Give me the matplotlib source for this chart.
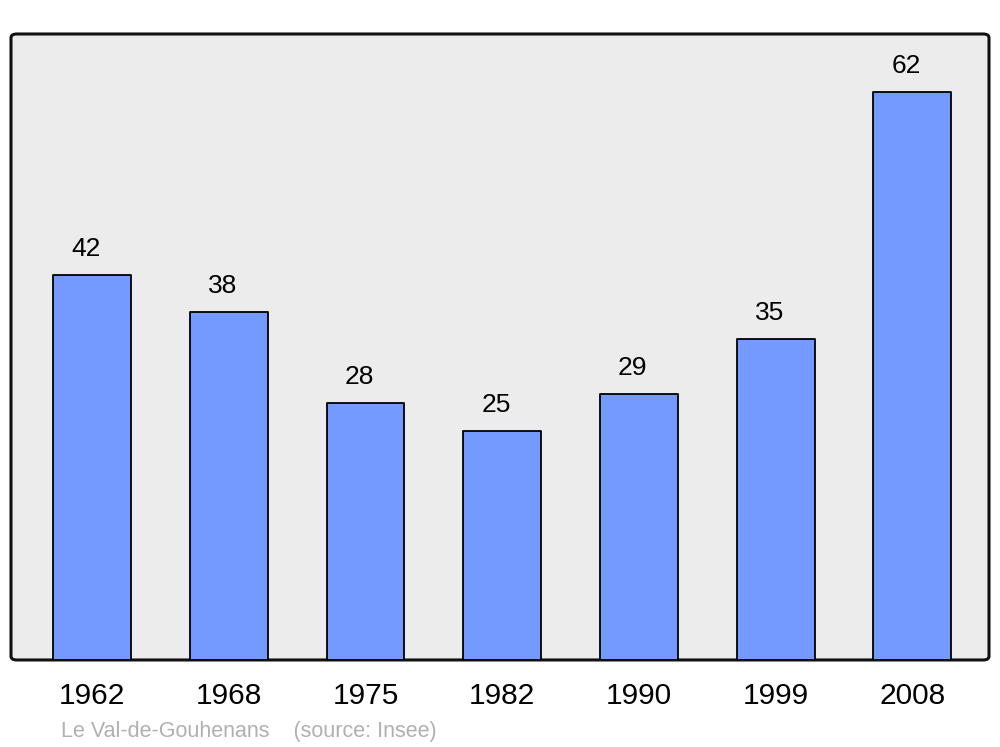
import matplotlib
matplotlib.use("Agg")
import matplotlib.pyplot as plt
from matplotlib.patches import FancyBboxPatch

years = ["1962", "1968", "1975", "1982", "1990", "1999", "2008"]
population = [42, 38, 28, 25, 29, 35, 62]
commune = "Le Val-de-Gouhenans"
source = "(source: Insee)"

plt.rcParams["font.family"] = ["Liberation Sans", "DejaVu Sans"]

bar_color = "#7499ff"
bg_color = "#ececec"

fig = plt.figure(figsize=(10, 7.47), dpi=100)
ax = fig.add_axes([0.011, 0.1165, 0.978, 0.838])
ax.set_facecolor("none")

# rounded frame behind the bars
frame = FancyBboxPatch(
    (0, 0), 1, 1,
    boxstyle="round,pad=0,rounding_size=0.006",
    transform=ax.transAxes,
    facecolor=bg_color,
    edgecolor="#111111",
    linewidth=2.2,
    zorder=0,
    clip_on=False,
)
ax.add_patch(frame)

x = list(range(len(years)))
bars = ax.bar(
    x, population, width=0.57,
    color=bar_color, edgecolor="black", linewidth=1.3, zorder=2,
)
for b in bars:
    b.set_joinstyle("round")

for xi, v in zip(x, population):
    ax.annotate(
        str(v), (xi, v), xytext=(-4.5, 10), textcoords="offset points",
        ha="center", va="bottom", fontsize=19,
    )

ax.set_xlim(-0.593, 6.56)
ax.set_ylim(0, 68.3)
ax.set_xticks(x)
ax.set_xticklabels(years, fontsize=21.5)
ax.set_yticks([])
ax.tick_params(axis="x", length=0, pad=16)
for lbl in ax.get_xticklabels():
    lbl.set_x(lbl.get_position()[0])
for s in ax.spines.values():
    s.set_visible(False)

fig.text(0.061, 1 - 737 / 747, f"{commune}    {source}",
         color="#b0b0b0", fontsize=15.5, va="baseline", ha="left")

fig.savefig("out.png", dpi=100, facecolor="white")
